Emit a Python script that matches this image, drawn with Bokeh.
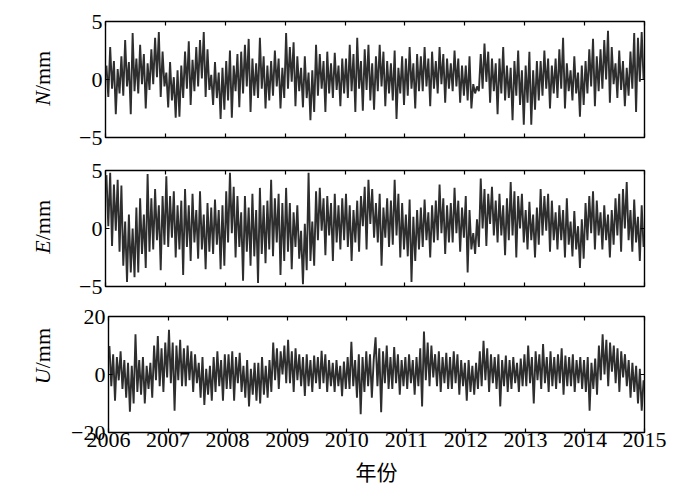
import numpy as np
from math import pi
from bokeh.plotting import figure
from bokeh.models import LinearAxis, FixedTicker, Range1d
from bokeh.layouts import column, row
from bokeh.core.properties import value
from bokeh.embed import file_html
from bokeh.resources import INLINE

# ---- data, 32 samples per year, 2006-2014 ----
year_ticks = [2006, 2007, 2008, 2009, 2010, 2011, 2012, 2013, 2014, 2015]

n_mm = [
    # 2006
    1.2, -1.5, 2.8, -0.8, 1.6, -3.0, 0.9, -1.2,   2.0, -1.4, 3.4, -0.6, 1.5, -3.0, 4.0, -1.0,
    1.8, -1.2, 3.0, -0.4, 2.2, -2.5, 1.4, -0.9,   2.6, -0.4, 3.6, 0.2, 4.1, -1.5, 2.4, -0.6,
    # 2007
    0.6, -2.4, 1.5, -1.8, 0.2, -3.3, 0.8, -3.2,   1.2, -1.6, 2.4, -0.8, 3.3, -2.2, 1.7, -1.0,
    2.8, -0.6, 3.4, 0.1, 4.1, -1.5, 2.6, -0.9,    0.4, -2.2, 1.5, -1.6, 0.6, -3.4, 1.0, -2.6,
    # 2008
    1.6, -1.8, 2.5, -3.3, 1.2, -1.0, 2.2, -2.4,   2.4, -1.2, 3.0, -0.6, 3.5, -2.8, 1.8, -1.4,
    1.4, -1.6, 3.6, -0.8, 2.0, -2.5, 1.2, -1.8,   1.6, -1.4, 2.5, -0.6, 1.8, -2.5, 1.0, -1.6,
    # 2009
    4.0, -0.8, 2.8, -0.2, 3.2, -2.3, 2.0, -1.0,   1.0, -2.4, 2.0, -1.6, 0.6, -3.5, 0.8, -2.8,
    3.0, -1.4, 2.2, -0.8, 1.6, -2.8, 2.4, -1.2,   1.4, -1.6, 2.3, -0.9, 1.2, -2.3, 1.8, -1.2,
    # 2010
    1.8, -1.6, 3.0, -1.0, 2.2, -2.8, 3.6, -0.8,   1.6, -2.7, 2.6, -0.9, 3.0, -1.8, 1.4, -2.6,
    2.0, -1.0, 3.0, -0.6, 2.4, -2.3, 1.6, -1.2,   1.4, -1.8, 2.5, -3.4, 1.0, -1.2, 2.0, -2.2,
    # 2011
    1.8, -1.4, 2.8, -0.8, 1.4, -2.5, 2.2, -1.0,   2.0, -1.0, 2.8, -0.6, 1.8, -2.3, 2.4, -0.8,
    1.6, -1.2, 2.8, -0.4, 2.2, -2.0, 1.8, -0.8,   1.4, -1.0, 2.5, -0.6, 1.8, -2.0, 1.2, -1.4,
    # 2012
    1.2, -1.8, 2.0, -2.5, -0.4, -1.2, -0.6, -1.0, 2.2, -0.8, 3.1, -0.2, 2.4, -2.0, 1.8, -1.0,
    1.4, -3.0, 1.8, -1.2, 2.8, -1.8, 1.2, -1.6,   1.0, -3.5, 1.6, -1.4, 2.5, -2.2, 0.8, -3.9,
    # 2013
    1.2, -2.0, 2.4, -3.9, 0.8, -2.6, 1.6, -1.8,   1.6, -1.4, 2.5, -0.8, 1.8, -2.5, 1.2, -1.2,
    1.8, -1.6, 2.6, -0.8, 3.6, -2.5, 1.4, -1.0,   0.8, -1.8, 2.0, -1.2, 0.6, -3.2, 1.2, -2.2,
    # 2014
    1.6, -1.2, 2.6, -0.6, 3.5, -2.3, 2.0, -1.0,   2.6, -0.8, 3.4, 0.0, 4.2, -2.0, 2.8, -0.4,
    1.4, -1.6, 2.5, -0.9, 1.6, -2.3, 1.0, -1.4,   2.4, -0.8, 4.0, -2.8, 3.6, -0.2, 4.1, 0.0,
]

e_mm = [
    # 2006
    4.6, 0.2, 4.8, -1.5, 3.8, -0.2, 4.2, -2.0,    3.7, -3.2, 0.6, -4.6, 1.2, -3.8, 0.0, -4.2,
    1.8, -3.8, 2.6, -2.2, 1.2, -3.4, 4.7, -2.0,   2.6, -1.8, 3.4, -1.0, 2.0, -3.6, 2.8, -1.4,
    # 2007
    4.5, -1.6, 2.8, -0.8, 3.2, -2.5, 2.0, -1.8,   2.4, -4.0, 3.4, -1.6, 2.0, -2.8, 3.0, -1.2,
    1.6, -2.6, 3.2, -1.8, 1.2, -3.5, 2.2, -2.0,   1.8, -2.2, 2.5, -1.4, 1.6, -3.5, 2.0, -3.2,
    # 2008
    3.2, -1.2, 4.8, -0.4, 3.6, -2.5, 2.8, -1.6,   1.4, -4.5, 2.8, -2.0, 1.8, -3.2, 3.0, -2.4,
    1.6, -4.7, 3.5, -2.2, 2.0, -3.0, 2.4, -1.8,   4.2, -2.4, 2.6, -1.2, 3.0, -4.0, 2.2, -2.8,
    # 2009
    3.5, -2.0, 2.2, -3.5, 1.4, -1.6, 2.0, -2.6,   -0.2, -4.8, 0.4, -3.6, 4.8, -2.8, 0.6, -3.2,
    3.2, -1.0, 3.5, -0.2, 2.6, -2.3, 2.8, -0.6,   2.2, -2.8, 3.0, -1.2, 2.0, -1.8, 2.6, -1.0,
    # 2010
    3.0, -1.6, 2.0, -2.8, 1.6, -1.2, 2.4, -2.0,   2.8, 0.2, 3.6, -1.8, 4.2, 0.4, 3.4, -0.8,
    2.2, -1.2, 3.0, -3.2, 1.8, -0.8, 2.6, -1.6,   2.4, -1.4, 4.2, -0.6, 3.0, -2.5, 2.2, -1.8,
    # 2011
    1.2, -2.4, 2.5, -4.6, 1.0, -2.8, 1.6, -1.8,   1.8, -1.6, 2.5, -1.0, 1.4, -2.5, 2.0, -1.2,
    2.4, -1.0, 3.8, -0.4, 2.6, -2.2, 2.0, -1.2,   2.2, -1.2, 3.5, -0.4, 2.4, -2.0, 1.8, -0.8,
    # 2012
    2.8, -3.8, 1.6, -1.8, -0.4, -2.2, 0.8, -1.6,  4.3, 0.0, 3.4, -1.5, 3.0, 0.4, 3.6, -0.6,
    2.4, -1.2, 3.0, -0.6, 2.0, -2.3, 2.6, -1.0,   4.0, -0.6, 3.2, -2.5, 2.8, 0.0, 3.0, -1.2,
    # 2013
    1.6, -1.8, 2.3, -1.0, 1.2, -2.5, 1.8, -1.4,   3.4, -0.6, 2.8, -0.2, 3.0, -2.0, 2.4, -1.0,
    1.4, -1.8, 2.0, -1.0, 1.6, -2.5, 2.6, -1.4,   0.6, -2.4, 1.5, -1.8, 0.2, -3.4, 0.8, -2.6,
    # 2014
    2.2, -1.0, 2.8, -0.4, 3.2, -1.8, 2.4, -0.6,   1.4, -1.8, 2.0, -1.0, 1.2, -2.5, 1.6, -1.4,
    2.6, -0.6, 3.0, -2.0, 3.4, 0.0, 4.0, -1.0,    1.6, -2.0, 2.5, -1.2, 1.0, -2.8, 2.0, -1.6,
]

u_mm = [
    # 2006
    9.8, -4.0, 7.0, -9.0, 6.0, -2.0, 8.0, -5.0,    5.0, -8.0, 4.0, -12.8, 3.0, -10.0, 13.9, -6.0,
    5.0, -7.0, 6.0, -10.0, 3.0, -5.0, 4.0, -8.0,   10.0, -2.0, 13.3, -4.0, 9.0, -6.0, 11.0, -1.0,
    # 2007
    15.4, -3.0, 11.0, -12.5, 10.0, -2.0, 12.0, -4.0, 9.0, -4.0, 10.0, -2.0, 8.0, -6.0, 7.0, -3.0,
    4.0, -8.0, 6.0, -10.5, 2.0, -7.0, 3.0, -9.0,   6.0, -6.0, 8.0, -4.0, 5.0, -9.0, 7.0, -5.0,
    # 2008
    7.0, -5.0, 8.0, -9.0, 6.0, -3.0, 7.5, -6.0,    3.0, -8.0, 5.0, -11.0, 2.0, -7.0, 4.0, -9.0,
    4.0, -10.0, 6.0, -7.0, 3.0, -8.0, 5.0, -6.0,   11.0, -2.0, 9.0, -5.0, 8.0, 0.0, 10.0, -3.0,
    # 2009
    12.0, -3.0, 8.0, -6.0, 9.0, -2.0, 7.0, -4.0,   6.0, -7.4, 7.0, -4.0, 5.0, -6.0, 6.5, -3.0,
    6.0, -5.0, 8.2, -3.0, 7.0, -6.0, 5.0, -4.0,    4.0, -6.0, 5.0, -4.0, 3.0, -7.5, 4.5, -5.0,
    # 2010
    6.0, -5.0, 11.3, -4.0, 5.0, -8.0, 7.0, -13.7,  6.0, -6.0, 8.0, -4.0, 7.0, -8.0, 5.0, 12.8,
    -4.0, 9.0, -13.0, 8.0, -3.0, 10.0, -5.0, 6.0,  -5.0, 9.5, -3.0, 7.0, -7.0, 5.0, -4.0, 6.0,
    # 2011
    -5.0, 7.0, -3.0, 5.0, -7.0, 6.0, -4.0, 9.0,    -11.0, 14.8, -2.0, 11.0, -4.0, 10.0, -1.0, 7.0,
    -4.0, 8.0, -6.0, 6.0, -3.0, 7.5, -5.0, 6.0,    -5.0, 8.0, -3.0, 7.0, -7.0, 5.0, -4.0, 4.0,
    # 2012
    -9.0, 5.0, -6.0, 3.0, -7.0, 4.0, -5.0, 8.0,    -4.0, 11.6, -2.0, 9.0, -6.0, 7.0, -3.0, 6.0,
    -5.0, 7.0, -11.0, 5.0, -4.0, 6.5, -6.0, 5.0,   -5.0, 6.0, -3.0, 4.0, -6.0, 5.5, -4.0, 7.0,
    # 2013
    -4.0, 10.0, -3.0, 6.0, -10.0, 8.0, -2.0, 7.0,  -5.0, 10.5, -3.0, 6.0, -6.0, 8.0, -4.0, 6.0,
    -5.0, 7.0, -3.0, 9.0, -7.0, 6.5, -4.0, 6.0,    -4.0, 7.0, -6.0, 5.0, -3.0, 6.0, -5.0, 5.0,
    # 2014
    -6.0, 6.0, -12.5, 4.0, -5.0, 5.5, -7.0, 10.0,  -2.0, 13.9, 0.0, 12.0, -4.0, 11.0, 1.0, 10.0,
    -3.0, 9.0, -6.0, 8.0, -1.0, 7.0, -4.0, 5.0,    -8.0, 4.0, -6.0, 3.0, -10.0, 2.0, -12.5, -2.0,
]

panels = [
    ("N", n_mm, [-5, 0, 5], (-5, 5)),
    ("E", e_mm, [-5, 0, 5], (-5, 5)),
    ("U", u_mm, [-20, 0, 20], (-20, 20)),
]

SERIF = "Liberation Serif"
LINE_COLOR = "#2e2e2e"

# layout geometry (pixels)
borders = [(21, 16), (17, 14), (16, 61)]
FRAME_H = 116
LABEL_W = 68     # narrow figure holding the rotated y-axis title
LEFT = 37        # room for the y tick labels
FRAME_W = 539
RIGHT = 40
LABEL_X = 42     # centre of the rotated title, from the page's left edge
FS_TICK = "22px"
FS_TITLE = 22


def hidden_labels(ax, ticks):
    ax.major_label_overrides = {t: "" for t in ticks}
    ax.major_label_standoff = 0


def style_ticks(ax):
    ax.axis_line_color = None
    ax.major_tick_in = 4
    ax.major_tick_out = 0
    ax.major_tick_line_color = "black"
    ax.major_tick_line_width = 1.2
    ax.minor_tick_line_color = None


def make_row(idx, name, vals, yt, yr):
    top, bottom = borders[idx]
    is_last = idx == len(panels) - 1
    h = top + FRAME_H + bottom

    p = figure(width=LEFT + FRAME_W + RIGHT, height=h,
               x_range=Range1d(2006, 2015), y_range=Range1d(*yr),
               output_backend="svg", toolbar_location=None,
               min_border_left=LEFT, min_border_right=RIGHT,
               min_border_top=top, min_border_bottom=bottom,
               x_axis_location=None, y_axis_location=None)
    p.xgrid.visible = False
    p.ygrid.visible = False
    p.outline_line_color = "black"
    p.outline_line_width = 1.4
    p.border_fill_color = "white"

    t = np.arange(len(vals)) / 32.0 + 2006 + 1 / 64.0
    p.line(t, vals, line_color=LINE_COLOR, line_width=1.9)

    for loc in ("below", "above"):
        ax = LinearAxis(ticker=FixedTicker(ticks=year_ticks))
        style_ticks(ax)
        if loc == "below" and is_last:
            ax.major_label_text_font = SERIF
            ax.major_label_text_font_size = FS_TICK
            ax.major_label_text_color = "black"
            ax.major_label_standoff = 0
            ax.axis_label = "年份"
            ax.axis_label_text_font = "Noto Sans CJK SC"
            ax.axis_label_text_font_style = "normal"
            ax.axis_label_text_font_size = "21px"
            ax.axis_label_text_color = "black"
            ax.axis_label_standoff = 6
        else:
            hidden_labels(ax, year_ticks)
        p.add_layout(ax, loc)

    overrides = {v: (str(v) if v >= 0 else "\u2212" + str(-v)) for v in yt}
    for loc in ("left", "right"):
        ax = LinearAxis(ticker=FixedTicker(ticks=yt))
        style_ticks(ax)
        if loc == "left":
            ax.major_label_text_font = SERIF
            ax.major_label_text_font_size = FS_TICK
            ax.major_label_text_color = "black"
            ax.major_label_standoff = 3
            ax.major_label_overrides = overrides
        else:
            hidden_labels(ax, yt)
        p.add_layout(ax, loc)

    # narrow figure that carries the y-axis title (italic letter + "/mm")
    lf = figure(width=LABEL_W, height=h, x_range=Range1d(0, LABEL_W),
                y_range=Range1d(0, h), output_backend="svg",
                toolbar_location=None, min_border=0,
                x_axis_location=None, y_axis_location=None)
    lf.xgrid.visible = False
    lf.ygrid.visible = False
    lf.outline_line_color = None
    centre = h - top - FRAME_H / 2
    k = FS_TITLE / 22.0
    letter_w = {"N": 14.7, "E": 13.4, "U": 15.9}[name] * k
    anchor = centre - (letter_w + 40.3 * k) / 2 + letter_w
    lf.text(x=[LABEL_X], y=[anchor], text=[name], angle=pi / 2,
            text_align="right", text_baseline="middle",
            text_font=value(SERIF), text_font_style="italic",
            text_font_size=f"{FS_TITLE}px", text_color="black")
    lf.text(x=[LABEL_X], y=[anchor], text=["/mm"], angle=pi / 2,
            text_align="left", text_baseline="middle",
            text_font=value(SERIF), text_font_size=f"{FS_TITLE}px",
            text_color="black")
    return row(lf, p, spacing=0)


rows = [make_row(i, *pp) for i, pp in enumerate(panels)]
layout = column(*rows, spacing=0)

open("out.html", "w").write(file_html(layout, INLINE))
